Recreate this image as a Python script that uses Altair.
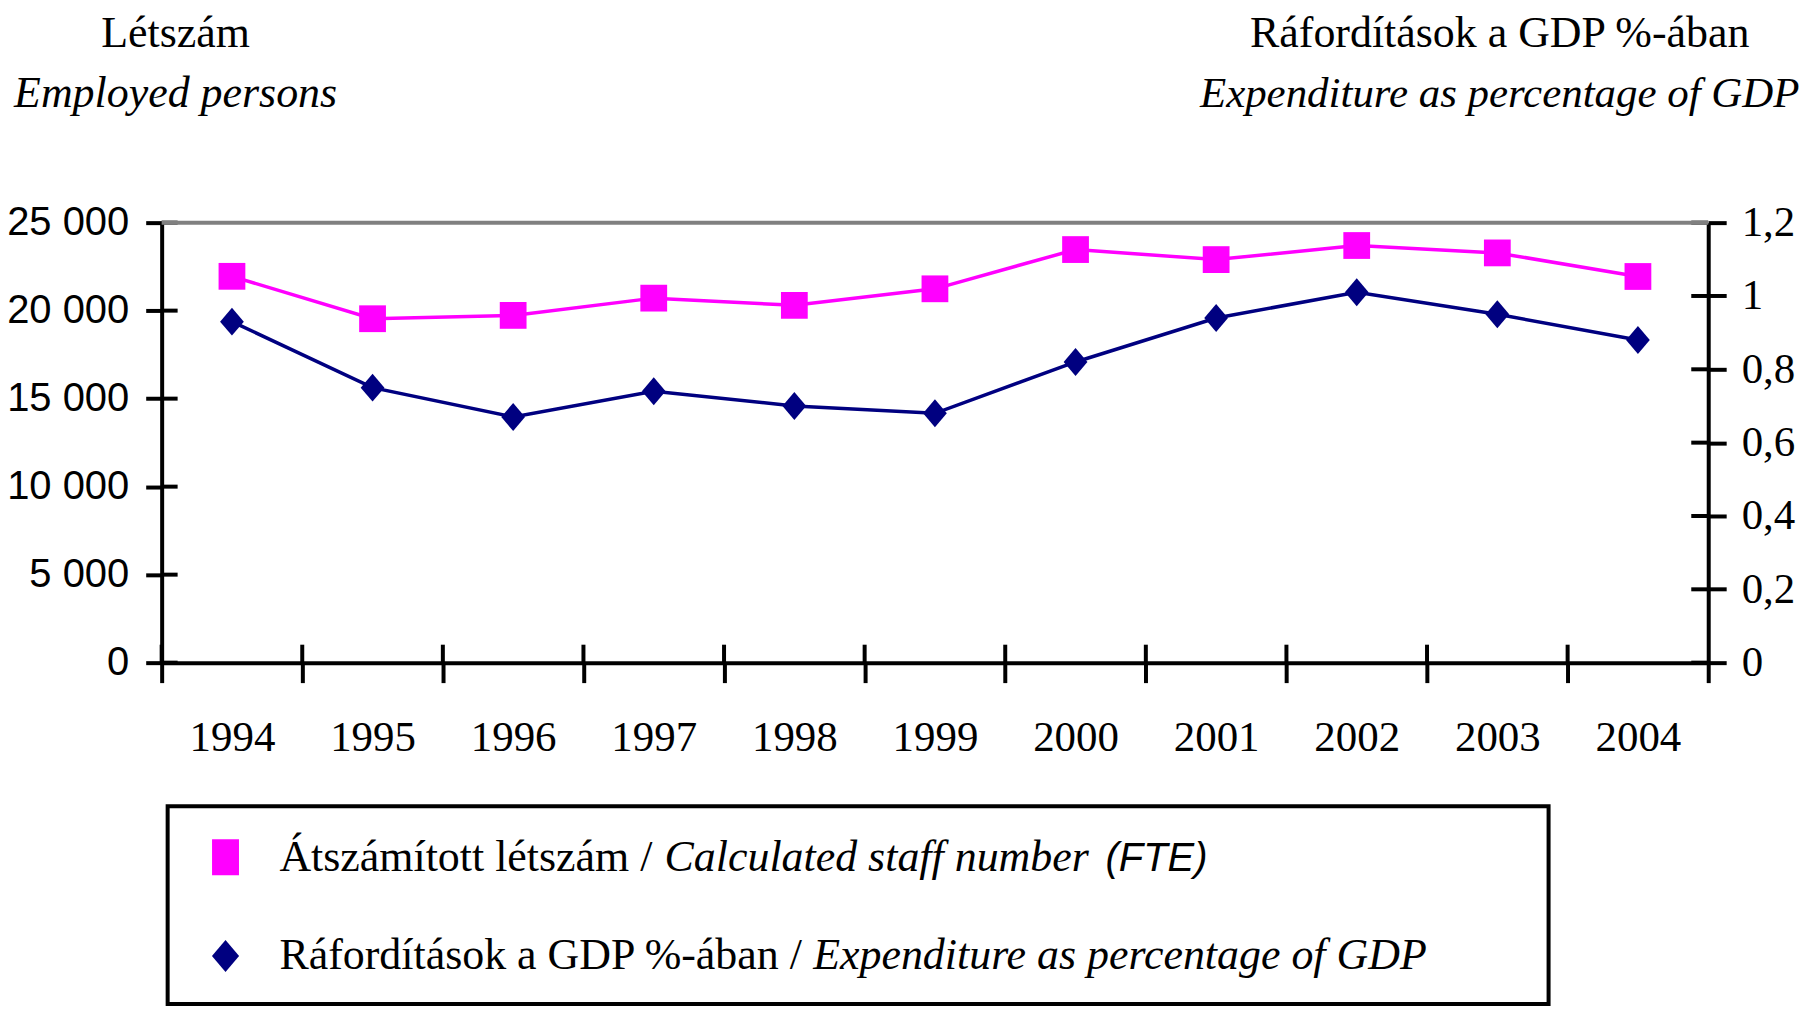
import altair as alt
import pandas as pd

years = ["1994", "1995", "1996", "1997", "1998", "1999", "2000", "2001", "2002", "2003", "2004"]
fte = [21950, 19540, 19730, 20710, 20300, 21240, 23470, 22900, 23700, 23280, 21940]
gdp = [0.93, 0.75, 0.67, 0.74, 0.70, 0.68, 0.82, 0.94, 1.01, 0.95, 0.88]
left_ticks = [0, 5000, 10000, 15000, 20000, 25000]
right_ticks = [0, 0.2, 0.4, 0.6, 0.8, 1.0, 1.2]

left_title = ["Létszám", "Employed persons"]
right_title = ["Ráfordítások a GDP %-ában", "Expenditure as percentage of GDP"]
legend_hu = ["Átszámított létszám /", "Ráfordítások a GDP %-ában /"]
legend_en = ["Calculated staff number", "Expenditure as percentage of GDP"]
legend_fte = "(FTE)"

MAGENTA = "#FF00FF"
NAVY = "#000080"
W, H = 1550, 441
SERIF = "Liberation Serif"
SANS = "Liberation Sans"

df = pd.DataFrame({"year": years, "fte": fte, "gdp": gdp})
df_lt = pd.DataFrame({"v": left_ticks})
df_rt = pd.DataFrame({"v": right_ticks})
df_years = pd.DataFrame({"year": years})
one = pd.DataFrame({"a": [0]})

xscale = alt.Scale(type="band", paddingInner=0, paddingOuter=0, domain=years)
xaxis = alt.Axis(title=None, labelAngle=0, tickBand="extent", domainColor="black",
                 domainWidth=4, tickColor="black", tickWidth=4, tickSize=20,
                 labelFont=SERIF, labelFontSize=43, labelColor="black", labelPadding=34,
                 grid=False)

lscale = alt.Scale(domain=[0, 25000], nice=False)
laxis = alt.Axis(title=None, orient="left", values=left_ticks, domainColor="black",
                 domainWidth=4, tickColor="black", tickWidth=4, tickSize=16,
                 labelFont=SANS, labelFontSize=40, labelColor="black", labelPadding=17,
                 labelExpr="replace(format(datum.value, ','), ',', ' ')", grid=False)
rscale = alt.Scale(domain=[0, 1.2], nice=False)
raxis = alt.Axis(title=None, orient="right", values=right_ticks, domainColor="black",
                 domainWidth=4, tickColor="black", tickWidth=4, tickSize=18,
                 labelFont=SERIF, labelFontSize=43, labelColor="black", labelPadding=15,
                 labelExpr="replace(format(datum.value, '.1~f'), '.', ',')", grid=False)


def X(band=0.5):
    return alt.X("year:O", scale=xscale, axis=xaxis, bandPosition=band)


def YL(field):
    return alt.Y(field + ":Q", scale=lscale, axis=laxis)


def YR(field):
    return alt.Y(field + ":Q", scale=rscale, axis=raxis)


diamond = "M0,-1L0.85,0L0,1L-0.85,0Z"
tall_rect = "M-0.75,-1L0.75,-1L0.75,1L-0.75,1Z"

base = alt.Chart(df)
fte_line = base.mark_line(color=MAGENTA, strokeWidth=3.5).encode(x=X(), y=YL("fte"))
fte_pts = base.mark_point(shape="square", size=720, filled=True, color=MAGENTA,
                          opacity=1, strokeWidth=0).encode(x=X(), y=YL("fte"))
l_inner = alt.Chart(df_lt).mark_rule(color="black", strokeWidth=4).encode(
    y=YL("v"), x=alt.value(0), x2=alt.value(16))

gdp_line = base.mark_line(color=NAVY, strokeWidth=3.5).encode(x=X(), y=YR("gdp"))
gdp_pts = base.mark_point(shape=diamond, size=784, filled=True, color=NAVY,
                          opacity=1, strokeWidth=0).encode(x=X(), y=YR("gdp"))
r_inner = alt.Chart(df_rt).mark_rule(color="black", strokeWidth=4).encode(
    y=YR("v"), x=alt.value(W - 17), x2=alt.value(W))

left = alt.layer(fte_line, fte_pts, l_inner)
right = alt.layer(gdp_line, gdp_pts, r_inner)

top_rule = alt.Chart(one).mark_rule(color="#808080", strokeWidth=4).encode(
    x=alt.value(0), x2=alt.value(W), y=alt.value(0))
x_inner = alt.Chart(df_years).mark_rule(color="black", strokeWidth=4).encode(
    x=X(0), y=alt.value(H - 18), y2=alt.value(H))


def text(s, x, y, font=SERIF, size=44, style="normal", align="center"):
    return alt.Chart(one).mark_text(text=s, font=font, fontSize=size, fontStyle=style,
                                    align=align, baseline="alphabetic", color="black").encode(
        x=alt.value(x), y=alt.value(y))


titles = [
    text(left_title[0], 14, -176),
    text(left_title[1], 14, -116, style="italic"),
    text(right_title[0], 1341, -176),
    text(right_title[1], 1341, -116, style="italic", size=43),
]

legend_box = alt.Chart(one).mark_rect(fillOpacity=0, stroke="black", strokeWidth=4).encode(
    x=alt.value(6), x2=alt.value(1390), y=alt.value(585), y2=alt.value(783))
leg_sq = alt.Chart(one).mark_point(shape=tall_rect, size=1296, filled=True, color=MAGENTA,
                                   opacity=1, strokeWidth=0).encode(x=alt.value(64), y=alt.value(636))
leg_di = alt.Chart(one).mark_point(shape=diamond, size=1024, filled=True, color=NAVY,
                                   opacity=1, strokeWidth=0).encode(x=alt.value(64), y=alt.value(735))
leg_texts = [
    text(legend_hu[0], 118, 650, align="left", size=44),
    text(legend_en[0], 504, 650, align="left", size=44, style="italic"),
    text(legend_fte, 946, 650, font=SANS, align="left", size=40, style="italic"),
    text(legend_hu[1], 118, 748, align="left", size=44),
    text(legend_en[1], 653, 748, align="left", size=44, style="italic"),
]

chart = alt.layer(left, right, top_rule, x_inner, legend_box, leg_sq, leg_di,
                  *titles, *leg_texts).resolve_scale(y="independent").properties(
    width=W, height=H,
    autosize=alt.AutoSizeParams(type="none"),
    padding={"left": 154, "top": 214, "right": 100, "bottom": 344},
).configure_view(stroke="transparent")

chart.save("out.html", embed_options={"renderer": "svg", "actions": False})
